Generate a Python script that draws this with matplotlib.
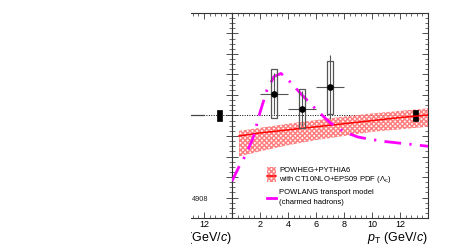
import numpy as np
import matplotlib
matplotlib.use("Agg")
import matplotlib.pyplot as plt
from matplotlib.patches import Rectangle
from matplotlib.ticker import MultipleLocator, FixedLocator, NullFormatter

plt.rcParams['font.family'] = ['Liberation Sans', 'DejaVu Sans']
plt.rcParams['mathtext.fontset'] = 'custom'
plt.rcParams['mathtext.rm'] = 'Liberation Sans'
plt.rcParams['mathtext.it'] = 'Liberation Sans:italic'
plt.rcParams['hatch.linewidth'] = 1.1

# data points (right panel)
pt = [3.0, 5.0, 7.0]
pt_err = [1.0, 1.0, 1.0]
ratio = [1.214, 1.065, 1.276]
stat = [0.20, 0.17, 0.31]
syst = [0.24, 0.19, 0.26]

# normalisation box
norm_x = 13.1
norm_err = 0.05

# POWHEG+PYTHIA6 band and central line
pw_x = [0.5, 2, 4, 6, 8, 10, 12, 14]
pw_hi = [0.85, 0.88, 0.92, 0.955, 0.99, 1.02, 1.045, 1.07]
pw_lo = [0.60, 0.65, 0.71, 0.76, 0.80, 0.84, 0.865, 0.89]
pw_mid = [0.80, 0.83, 0.86, 0.89, 0.92, 0.95, 0.98, 1.005]

# POWLANG curve
pl_x = [0.0, 0.5, 1.0, 1.5, 2.0, 2.5, 3.0, 3.5, 4.0, 5.0, 6.0, 7.0, 8.0, 9.0, 10, 11, 12, 13, 14]
pl_y = [0.36, 0.50, 0.62, 0.78, 1.03, 1.25, 1.38, 1.41, 1.35, 1.20, 1.06, 0.93, 0.84, 0.79, 0.765, 0.745, 0.73, 0.715, 0.70]

xlabels_right = [2, 4, 6, 8, 10, 12]
xlabels_left = [12]

W, H = 463, 249
fig = plt.figure(figsize=(W / 100, H / 100), dpi=100)

def px(x0, y0, x1, y1):
    return [x0 / W, 1 - y1 / H, (x1 - x0) / W, (y1 - y0) / H]

axL = fig.add_axes(px(150, 13, 232, 218))
ax = fig.add_axes(px(232, 13, 428, 218))

red = '#ff0000'
band_c = '#ff8080'
gray = '#555555'
magenta = '#ff00ff'
dashdot = (0, (6, 3, 0.8, 3))

for a in (axL, ax):
    a.set_ylim(0, 2)
    a.axhline(1, color='black', ls=(0, (1, 1.5)), lw=0.7, zorder=1)
    a.add_patch(Rectangle((norm_x - 0.17, 1 - norm_err), 0.34, 2 * norm_err,
                          facecolor='black', edgecolor='black', lw=0.5, zorder=3.5))
    for s in a.spines.values():
        s.set_color('#333333')
        s.set_linewidth(0.8)
    a.xaxis.set_minor_locator(MultipleLocator(0.4))
    a.yaxis.set_major_locator(MultipleLocator(0.2))
    a.yaxis.set_minor_locator(MultipleLocator(0.05))
    a.yaxis.set_major_formatter(NullFormatter())
    a.tick_params(which='both', top=True, direction='in', labelsize=6.5, pad=1.5, color='#333333')
    a.tick_params(which='major', length=4, width=0.6)
    a.tick_params(which='minor', length=2.2, width=0.5)

axL.set_xlim(14 - 82 / 14, 14)
axL.xaxis.set_major_locator(FixedLocator(xlabels_left))
axL.spines['left'].set_visible(False)
axL.tick_params(axis='y', which='both', left=False, right=True)
axL.tick_params(axis='y', which='major', length=4.5)
axL.plot([8.0, 12.0], [1, 1], color='#444444', lw=0.9, zorder=1)
axL.text(12.29, 0.185, '4908', fontsize=5.3, ha='right', va='center', color='#222222')

ax.set_xlim(0, 14)
ax.xaxis.set_major_locator(FixedLocator(xlabels_right))
ax.tick_params(axis='y', which='both', left=True, right=True)
ax.tick_params(axis='y', which='major', length=4.5)

# POWHEG band
ax.fill_between(pw_x, pw_lo, pw_hi, facecolor='none', edgecolor=band_c, hatch='xxxxxxx', lw=0, zorder=3)
ax.plot(pw_x, pw_mid, color=red, lw=1.1, zorder=4)

# POWLANG
ax.plot(pl_x, pl_y, color=magenta, lw=2.0, ls=dashdot, zorder=5)

# data
for x, y, s in zip(pt, ratio, syst):
    ax.add_patch(Rectangle((x - 0.2, y - s), 0.4, 2 * s, facecolor='none',
                           edgecolor=gray, lw=0.9, zorder=6))
ax.errorbar(pt, ratio, xerr=pt_err, yerr=stat, fmt='o', color='black', ms=3.8,
            ecolor=gray, elinewidth=0.8, capsize=0, zorder=7)

# legend
ax.add_patch(Rectangle((0.179, 0.178), 0.045, 0.073, transform=ax.transAxes,
                       facecolor='none', edgecolor=band_c, hatch='xxxxxxx', lw=0))
ax.plot([0.179, 0.224], [0.205, 0.205], transform=ax.transAxes, color=red, lw=1.1)
ax.plot([0.179, 0.224], [0.100, 0.100], transform=ax.transAxes, color=magenta, lw=2.0)
lfs = 5.5
ax.text(0.24, 0.232, 'POWHEG+PYTHIA6', transform=ax.transAxes, fontsize=lfs, va='center')
ax.text(0.24, 0.189, r'with CT10NLO+EPS09 PDF ($\Lambda_{\rm c}$)', transform=ax.transAxes, fontsize=lfs, va='center')
ax.text(0.24, 0.123, 'POWLANG transport model', transform=ax.transAxes, fontsize=lfs, va='center')
ax.text(0.24, 0.078, '(charmed hadrons)', transform=ax.transAxes, fontsize=lfs, va='center')

# axis titles
fig.text(428 / W, 1 - 238 / H, r'$p_{\rm T}$ (GeV/$c$)', ha='right', va='center', fontsize=9)
fig.text(232 / W, 1 - 238 / H, r'$p_{\rm T}$ (GeV/$c$)', ha='right', va='center', fontsize=9)

# the picture is cropped at the left
fig.add_artist(Rectangle((0, 0), 191 / W, 1, transform=fig.transFigure,
                         facecolor='white', edgecolor='none', zorder=100))

fig.savefig('out.png', dpi=100)
